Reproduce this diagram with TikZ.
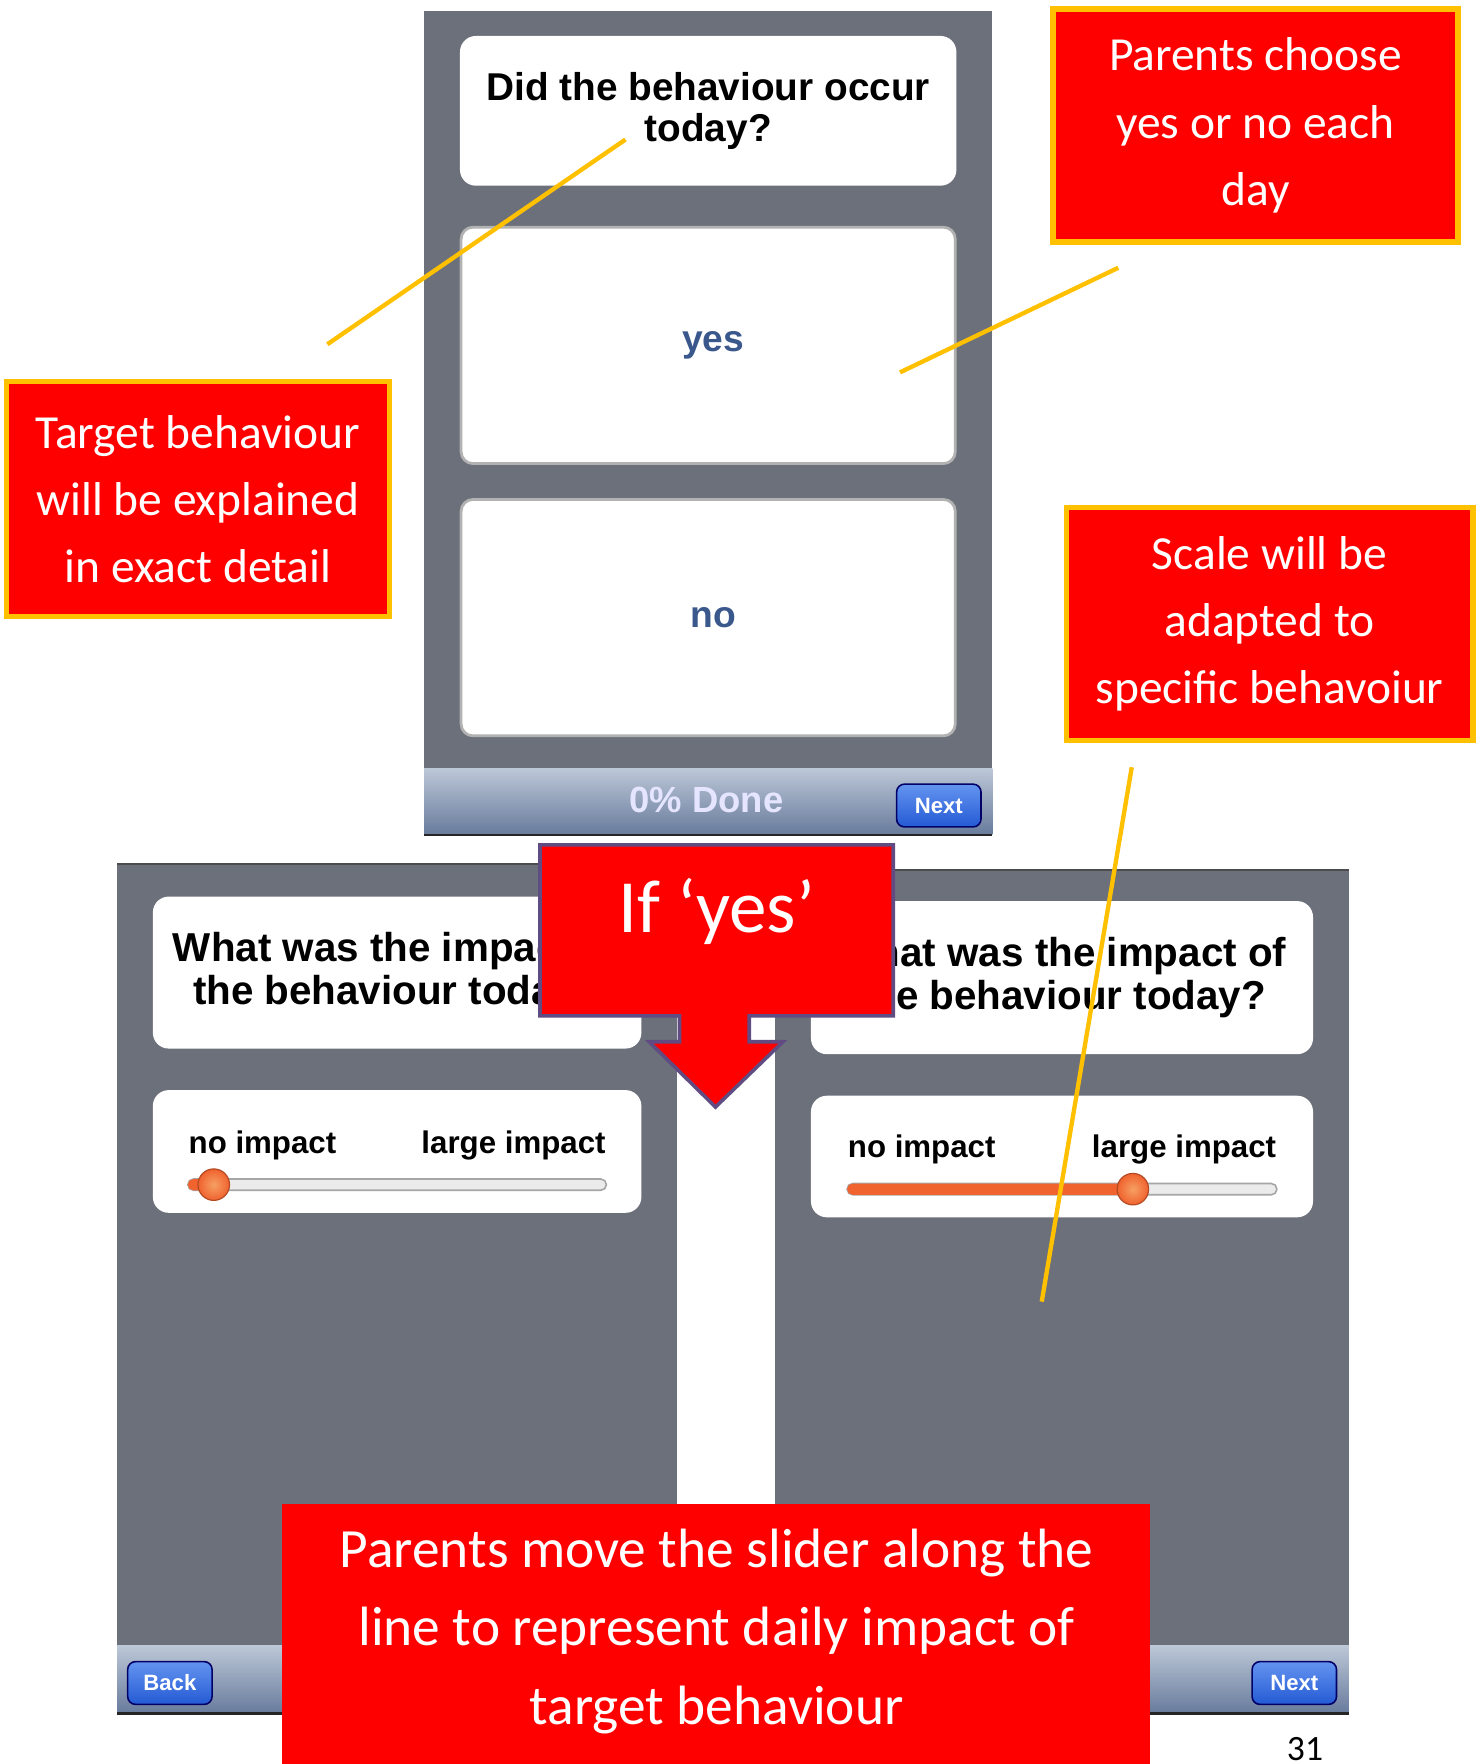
\documentclass[tikz,border=0pt]{standalone}
\usepackage{fontspec}
\setmainfont{Carlito}
\newfontfamily\appfont{Liberation Sans}

\definecolor{noteRed}{RGB}{255,0,0}
\definecolor{noteGold}{RGB}{255,192,0}
\definecolor{screenGray}{RGB}{108,112,122}
\definecolor{barTop}{RGB}{188,199,215}
\definecolor{barBottom}{RGB}{104,123,156}
\definecolor{btnTop}{RGB}{100,148,240}
\definecolor{btnBottom}{RGB}{36,90,212}
\definecolor{answerBlue}{RGB}{58,88,140}
\definecolor{calloutPurple}{RGB}{96,76,130}
\definecolor{sliderOrange}{RGB}{240,98,46}
\definecolor{knobLight}{RGB}{246,160,100}

\begin{document}
\begin{tikzpicture}[x=0.01cm,y=-0.01cm,
					card/.style={fill=white,rounded corners=4pt,inner sep=0pt,align=center,
						font=\appfont\bfseries\fontsize{9.8}{10.4}\selectfont},
					answer/.style={card,draw=black!30,line width=0.7pt,rounded corners=3pt,
						text=answerBlue,font=\appfont\bfseries\fontsize{9.4}{11}\selectfont},
					note/.style={draw=noteGold,line width=1.4pt,fill=noteRed,text=white,
						align=center,inner sep=0pt,font=\fontsize{12}{17}\selectfont},
					pointer/.style={draw=noteGold,line width=1.1pt},
					button/.style={draw=blue!40!black,line width=0.4pt,rounded corners=2pt,
						top color=btnTop,bottom color=btnBottom,text=white,inner sep=0pt,
						minimum width=0.75cm,minimum height=0.38cm,
						font=\appfont\bfseries\fontsize{5.6}{6}\selectfont},
					knob/.style={draw=sliderOrange!75!black,line width=0.3pt,
						inner color=knobLight,outer color=sliderOrange},
					scale text/.style={inner sep=0pt,font=\appfont\bfseries\fontsize{7.9}{9}\selectfont}]

  \useasboundingbox (0,0) rectangle (1314,1568);

  % phone screens
  \fill[screenGray] (377,10) rectangle (882,742);
  \fill[screenGray] (104,768) rectangle (602,1523);
  \fill[screenGray] (689,773) rectangle (1199,1523);
  \draw[black!70,line width=0.5pt] (689,773) -- (1199,773);
  \draw[black!70,line width=0.5pt] (104,768) -- (602,768);

  % bottom bars
  \shade[top color=barTop,bottom color=barBottom] (377,683) rectangle (882,742);
  \shade[top color=barTop,bottom color=barBottom] (104,1463) rectangle (602,1523);
  \shade[top color=barTop,bottom color=barBottom] (689,1463) rectangle (1199,1523);
  \draw[black!85,line width=0.6pt] (377,742) -- (882,742);
  \draw[black!85,line width=0.6pt] (104,1523) -- (602,1523);
  \draw[black!85,line width=0.6pt] (689,1523) -- (1199,1523);

  \node[text=white!90!blue,font=\appfont\bfseries\fontsize{9.2}{10}\selectfont] (done) at (628,711) {0\% Done};
  \node[button] (next top) at (834.5,716) {Next};
  \node[button] (back) at (151,1496) {Back};
  \node[button] (next bottom) at (1150.5,1496) {Next};

  % first screen
  \node[card,minimum width=4.41cm,minimum height=1.33cm] (occur) at (629.5,98.5)
    {Did the behaviour occur\\today?};
  \node[answer,minimum width=4.39cm,minimum height=2.10cm] (yes) at (629.5,307) {\hspace*{2.5pt}yes};
  \node[answer,minimum width=4.39cm,minimum height=2.10cm] (no) at (629.5,549) {\hspace*{2.5pt}no};

  % impact screens
  \node[card,minimum width=4.34cm,minimum height=1.35cm,font=\appfont\bfseries\fontsize{10.2}{10.8}\selectfont]
    (impact left) at (353,864.5) {What was the impact of\\the behaviour today?};
  \node[card,minimum width=4.34cm,minimum height=1.09cm] (slider left) at (353,1023.5) {};
  \node[card,minimum width=4.46cm,minimum height=1.36cm,font=\appfont\bfseries\fontsize{10.2}{10.8}\selectfont]
    (impact right) at (944,869) {What was the impact of\\the behaviour today?};
  \node[card,minimum width=4.46cm,minimum height=1.08cm] (slider right) at (944,1028) {};

  \node[scale text,anchor=west] (none left) at (167,1018) {no impact};
  \node[scale text,anchor=east] (large left) at (539,1018) {large impact};
  \node[scale text,anchor=west] (none right) at (753,1022) {no impact};
  \node[scale text,anchor=east] (large right) at (1135,1022) {large impact};

  % sliders
  \draw[black!35,fill=black!8,line width=0.4pt,rounded corners=1.4pt] (167,1048) rectangle (539,1058);
  \fill[sliderOrange,rounded corners=1.4pt] (167,1048) rectangle (185,1058);
  \draw[knob] (190,1053) circle[radius=14];
  \draw[black!35,fill=black!8,line width=0.4pt,rounded corners=1.4pt] (753,1052) rectangle (1135,1062);
  \fill[sliderOrange,rounded corners=1.4pt] (753,1052) rectangle (1005,1062);
  \draw[knob] (1007,1057) circle[radius=14];

  % if yes callout
  \draw[fill=noteRed,draw=calloutPurple,line width=0.9pt]
    (480,751) -- (794,751) -- (794,903) -- (666,903) -- (666,926) -- (696,926)
    -- (636,984) -- (577,926) -- (604,926) -- (604,903) -- (480,903) -- cycle;
  \node[text=white,font=\fontsize{19}{22}\selectfont] (if yes) at (637,810) {If ‘yes’};

  % notes
  \node[note,minimum width=3.6cm,minimum height=2.07cm] (choose) at (1116,111.5)
    {Parents choose\\yes or no each\\day};
  \node[note,minimum width=3.4cm,minimum height=2.09cm] (target) at (176,443.5)
    {Target behaviour\\will be explained\\in exact detail};
  \node[note,minimum width=3.61cm,minimum height=2.07cm] (scale) at (1128.5,554.5)
    {Scale will be\\adapted to\\specific behavoiur};

  \fill[noteRed] (251,1337) rectangle (1022,1600);
  \node[text=white,align=center,font=\fontsize{14}{19.9}\selectfont] (slider note) at (637,1450)
    {Parents move the slider along the\\line to represent daily impact of\\target behaviour};

  % pointers
  \coordinate (target end) at (291,306);
  \coordinate (occur end) at (556,124);
  \coordinate (choose end) at (994,238);
  \coordinate (yes end) at (800,331);
  \coordinate (scale end) at (1006,682);
  \coordinate (slider end) at (926,1157);
  \draw[pointer] (target end) -- (occur end);
  \draw[pointer] (choose end) -- (yes end);
  \draw[pointer] (scale end) -- (slider end);

  \node[anchor=base,font=\fontsize{9}{11}\selectfont] (page) at (1160,1565) {31};
\end{tikzpicture}
\end{document}
